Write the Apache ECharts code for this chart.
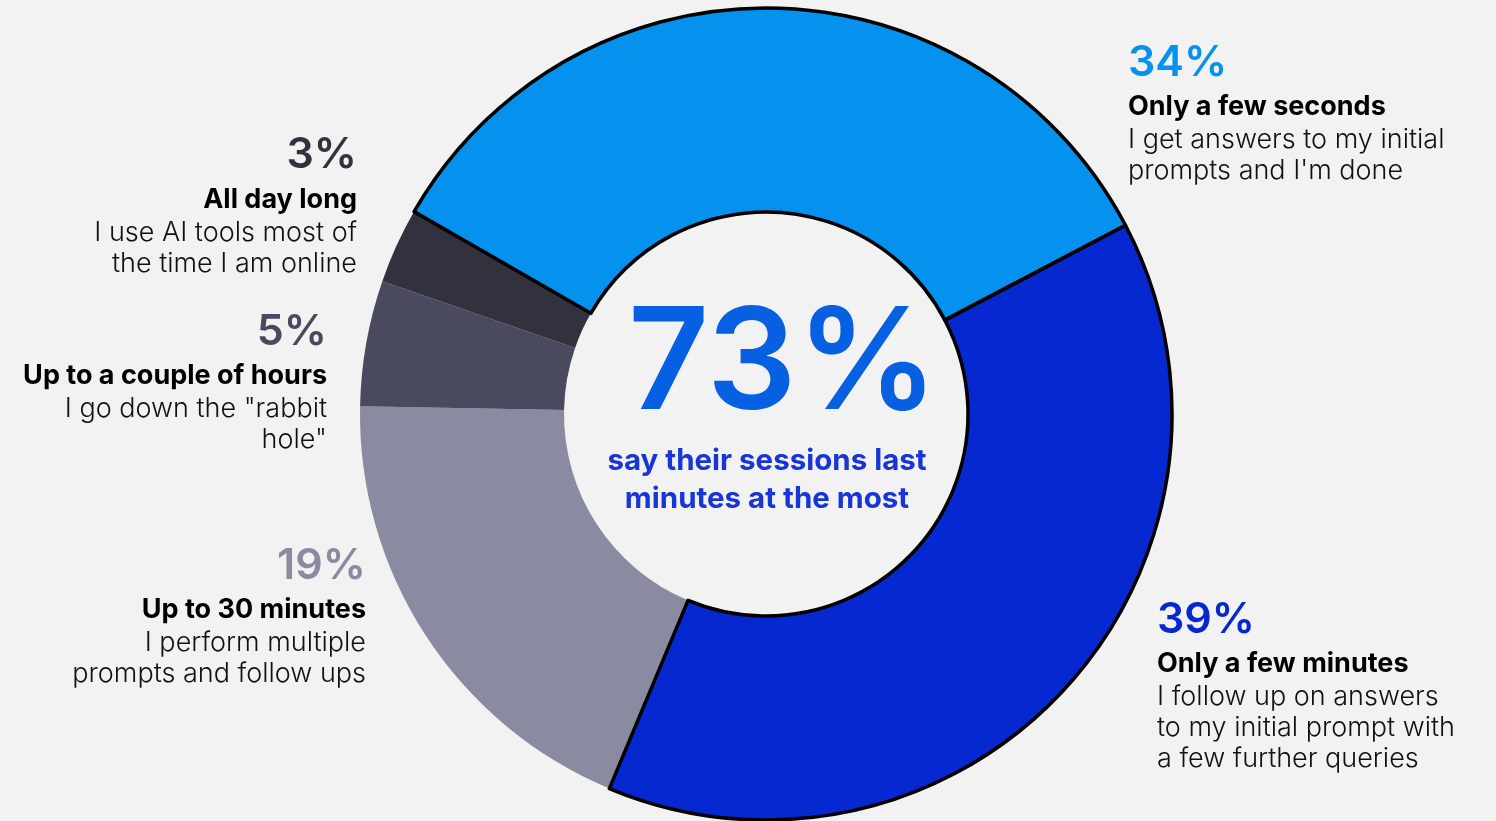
<!DOCTYPE html>
<html>
<head>
<meta charset="utf-8">
<script src="https://cdn.jsdelivr.net/npm/echarts@6/dist/echarts.min.js"></script>
<style>
  html, body { margin: 0; padding: 0; background: #f2f2f2; }
  #chart { width: 1496px; height: 821px; }
</style>
</head>
<body>
<div id="chart"></div>
<script>
// Session length shares (percent), clockwise from the upper-left
const shares = [34, 39, 19, 5, 3];
const headings = [
  'Only a few seconds',
  'Only a few minutes',
  'Up to 30 minutes',
  'Up to a couple of hours',
  'All day long'
];
const descriptions = [
  ['I get answers to my initial', "prompts and I'm done"],
  ['I follow up on answers', 'to my initial prompt with', 'a few further queries'],
  ['I perform multiple', 'prompts and follow ups'],
  ['I go down the "rabbit', 'hole"'],
  ['I use AI tools most of', 'the time I am online']
];
const centerCaption = ['say their sessions last', 'minutes at the most'];

// Presentation
const sliceColors = ['#0592ef', '#0528d0', '#8a8aa1', '#494a5e', '#32313e'];
const outlined = [true, true, false, false, false];
const FONT = 'Inter, "Noto Sans", sans-serif';
// label anchor: x, top of block, text alignment
const labelSpots = [
  { x: 1128, y: 36.5, align: 'left' },
  { x: 1157, y: 593.5, align: 'left' },
  { x: 366, y: 539.5, align: 'right' },
  { x: 327, y: 305.5, align: 'right' },
  { x: 357, y: 129, align: 'right' }
];

// "minutes at the most" = seconds + minutes
const quickShare = shares[0] + shares[1];

const CENTER = [766, 414];
const RADIUS = [202, 406];
const START = 150.1;

const sliceData = shares.map((v, i) => ({
  value: v,
  name: headings[i],
  itemStyle: { color: sliceColors[i] },
  label: { rich: { p: { color: sliceColors[i] } } }
}));

const outlineData = shares.map((v, i) => ({
  value: v,
  name: headings[i],
  itemStyle: {
    color: 'rgba(0,0,0,0)',
    borderColor: outlined[i] ? '#000' : 'rgba(0,0,0,0)',
    borderWidth: outlined[i] ? 3.5 : 0
  }
}));

const chart = echarts.init(document.getElementById('chart'), null, { renderer: 'canvas' });

chart.setOption({
  backgroundColor: '#f2f2f2',
  animation: false,
  series: [
    {
      type: 'pie',
      center: CENTER,
      radius: RADIUS,
      startAngle: START,
      clockwise: true,
      avoidLabelOverlap: false,
      emphasis: { disabled: true },
      data: sliceData,
      labelLine: { show: false },
      label: {
        show: true,
        position: 'outside',
        formatter: (p) => {
          const i = p.dataIndex;
          return ['{p|' + shares[i] + '%}', '{t|' + headings[i] + '}']
            .concat(descriptions[i].map(s => '{d|' + s + '}'))
            .join('\n');
        },
        rich: {
          p: { fontFamily: FONT, fontWeight: 600, fontSize: 43, lineHeight: 53 },
          t: { fontFamily: FONT, fontWeight: 700, fontSize: 27, lineHeight: 35, color: '#000' },
          d: { fontFamily: FONT, fontWeight: 300, fontSize: 27, lineHeight: 31, color: '#111' }
        }
      },
      labelLayout: (params) => {
        const s = labelSpots[params.dataIndex];
        return { x: s.x, y: s.y, align: s.align, verticalAlign: 'top' };
      }
    },
    {
      // black outline drawn over the two "short session" slices
      type: 'pie',
      silent: true,
      z: 5,
      center: CENTER,
      radius: RADIUS,
      startAngle: START,
      clockwise: true,
      label: { show: false },
      labelLine: { show: false },
      emphasis: { disabled: true },
      data: outlineData
    }
  ],
  graphic: [
    {
      type: 'text',
      x: 783,
      y: 367,
      style: {
        text: quickShare + '%',
        font: '600 141px ' + FONT,
        textAlign: 'center',
        textVerticalAlign: 'middle',
        fill: '#075fe2'
      }
    },
    {
      type: 'text',
      x: 767,
      y: 480,
      style: {
        text: centerCaption.join('\n'),
        font: '700 29.5px ' + FONT,
        lineHeight: 38,
        textAlign: 'center',
        textVerticalAlign: 'middle',
        fill: '#1836d8'
      }
    }
  ]
});
</script>
</body>
</html>
